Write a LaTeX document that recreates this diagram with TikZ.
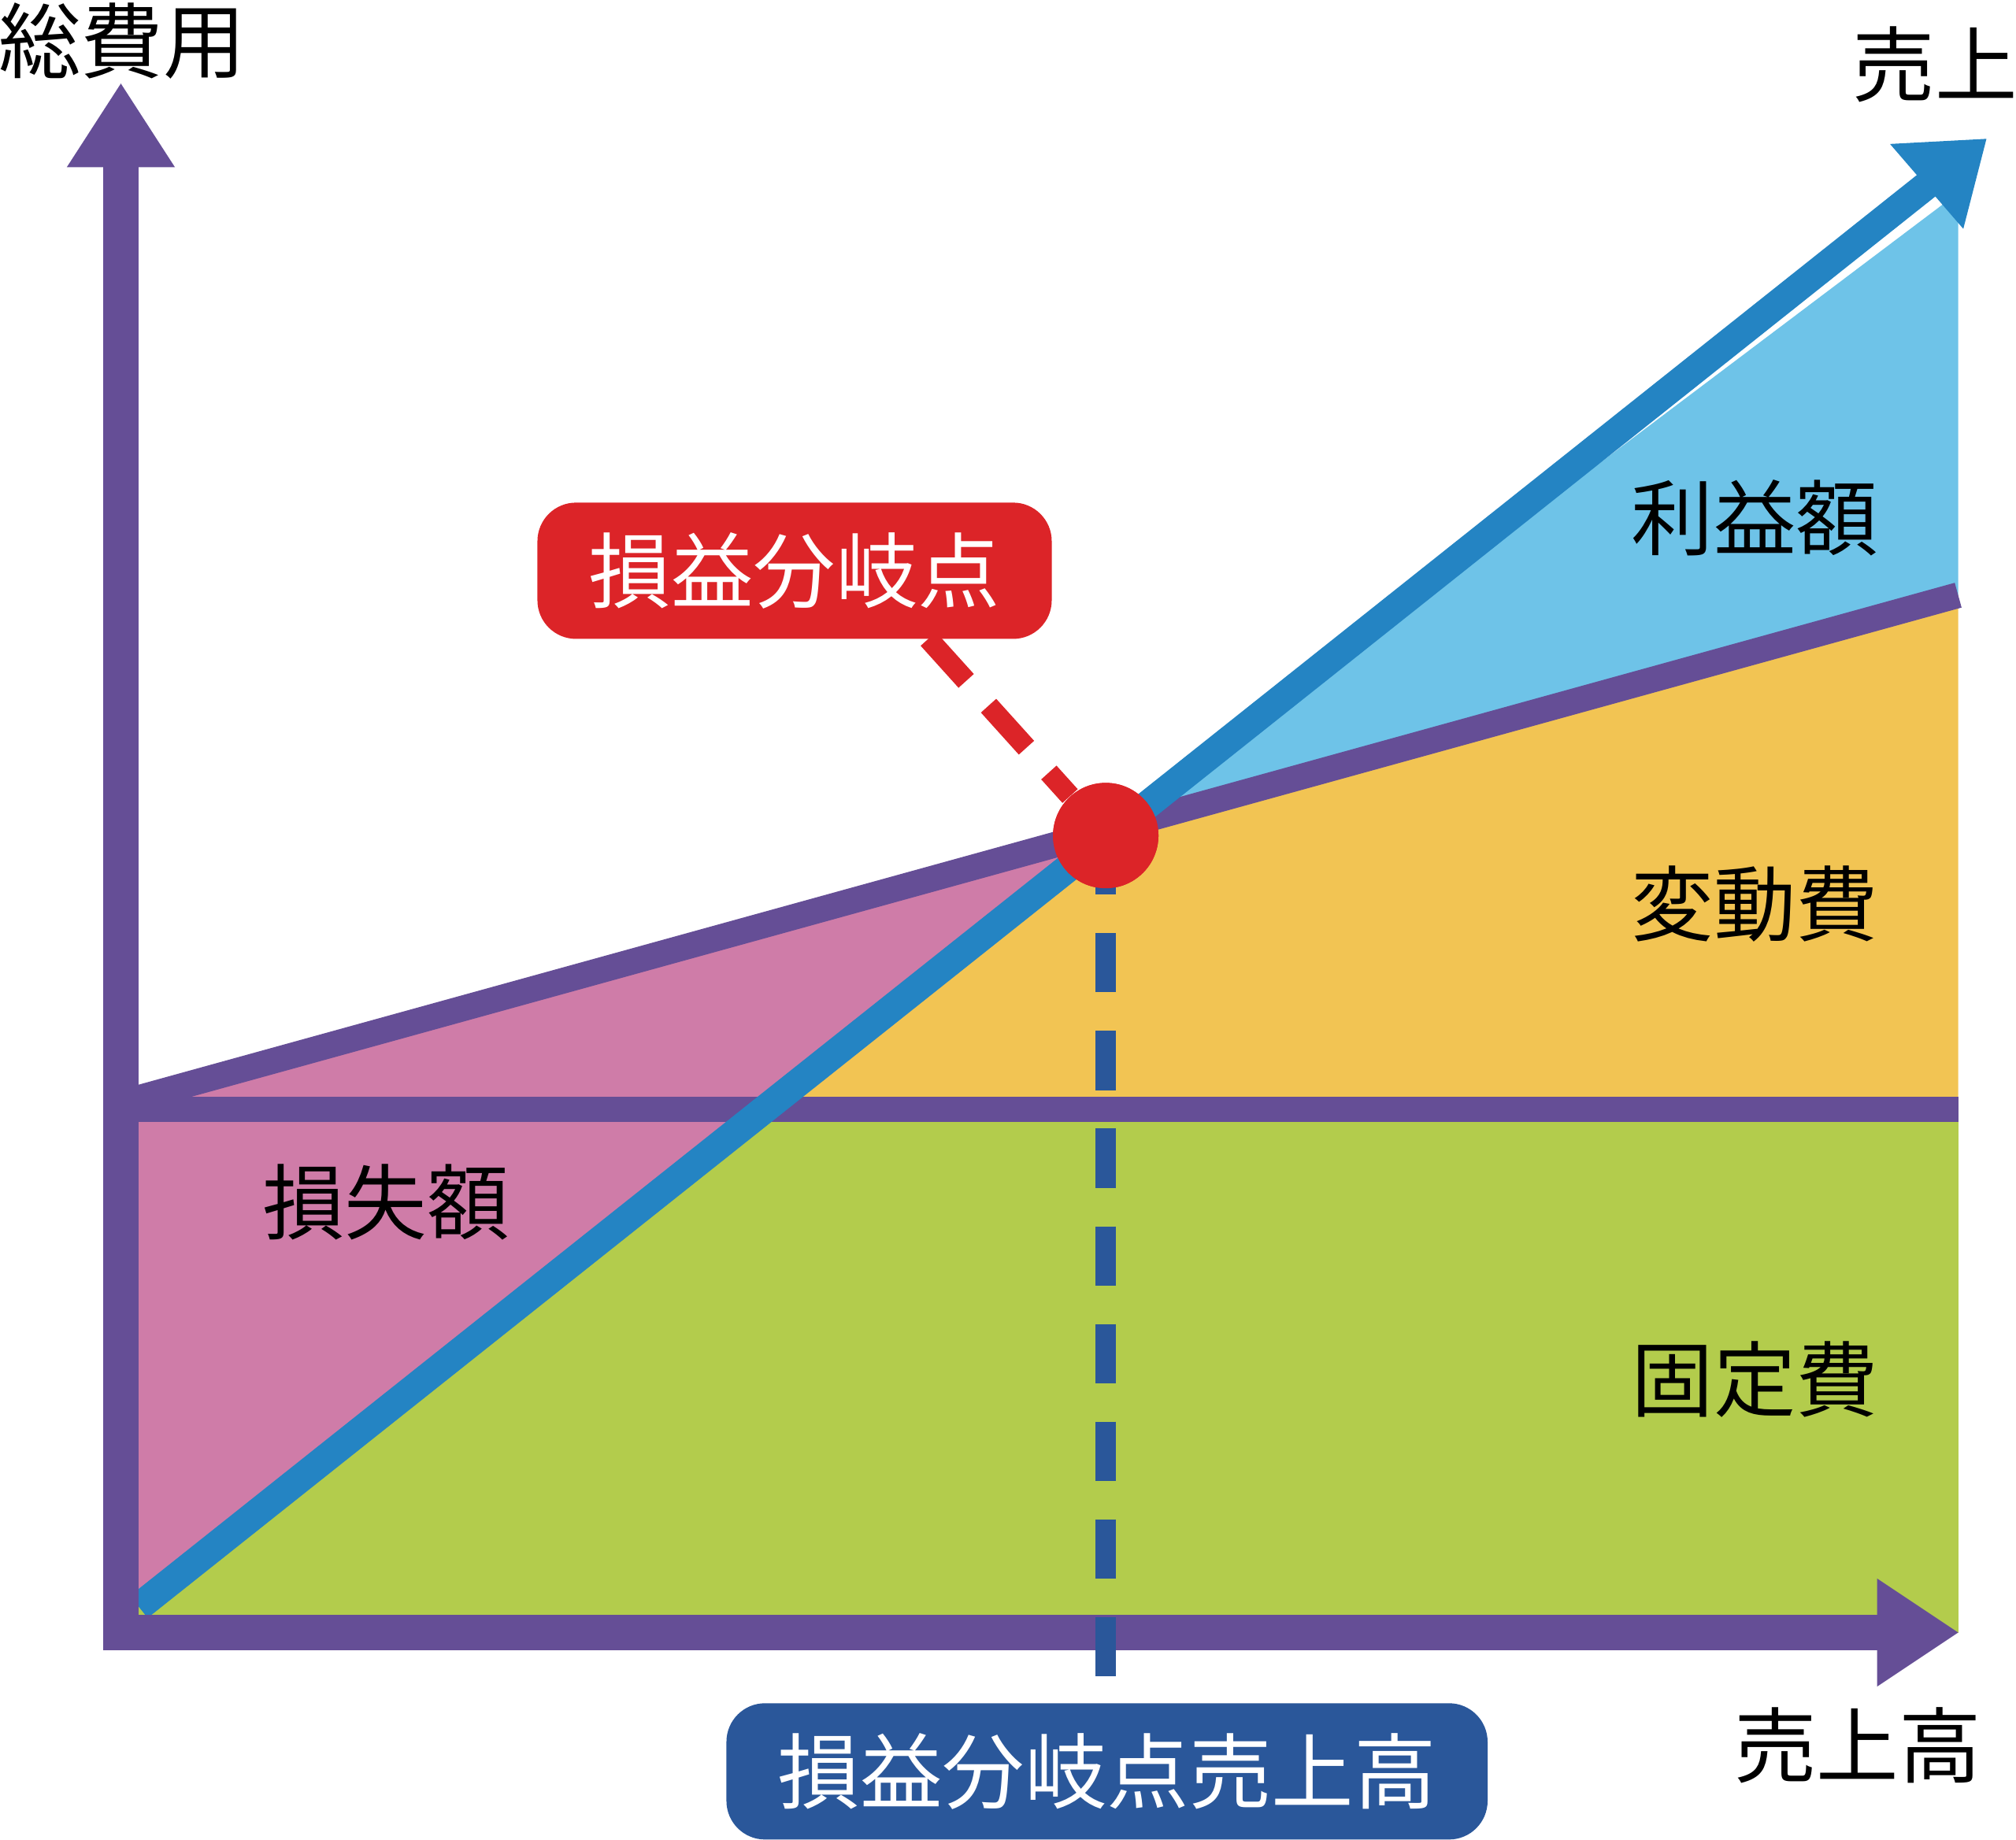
\documentclass[tikz,border=0pt]{standalone}
\usepackage{fontspec}
\setmainfont{Noto Sans CJK JP}
\begin{document}
\begin{tikzpicture}[x=0.5pt,y=-0.5pt]
\definecolor{pur}{HTML}{654E96}
\definecolor{blu}{HTML}{2484C3}
\definecolor{lbl}{HTML}{6EC3E8}
\definecolor{yel}{HTML}{F2C453}
\definecolor{grn}{HTML}{B3CC4C}
\definecolor{pnk}{HTML}{CF7CA8}
\definecolor{rd}{HTML}{DC2428}
\definecolor{dbl}{HTML}{2A579A}
\tikzset{lab/.style={font=\fontsize{32}{36}\selectfont,inner sep=0pt},
 tag/.style={rounded corners=15pt,text=white,font=\fontsize{32}{36}\selectfont,minimum height=53pt,inner xsep=20pt}}
\useasboundingbox (0,0) rectangle (1568,1431);
% fills
\fill[grn] (94,863) rectangle (1523,1270);
\fill[yel] (94,863) -- (1523,863) -- (1523,463) -- (94,858) -- cycle;
\fill[lbl] (860,650) -- (1523,150) -- (1523,463) -- cycle;
\fill[pnk] (94,858) -- (860,650) -- (108,1250) -- (94,1260) -- cycle;
% lines
\draw[pur,line width=10pt] (94,863) -- (1523,863);
\draw[pur,line width=10pt] (94,858) -- (1523,463);
\draw[blu,line width=11pt] (108,1250) -- (1510,135);
\fill[blu] (1470,112) -- (1545,108) -- (1527,178) -- cycle;
\draw[pur,line width=14pt] (94,1270) -- (94,125);
\fill[pur] (52,130) -- (94,65) -- (136,130) -- cycle;
\draw[pur,line width=14pt] (80,1270) -- (1465,1270);
\fill[pur] (1460,1228) -- (1523,1270) -- (1460,1312) -- cycle;
% markers
\node[tag,fill=rd,minimum width=196pt] (be) at (618,444) {損益分岐点};
\node[tag,fill=dbl,minimum width=282pt] (bes) at (861,1378) {損益分岐点売上高};
\node[circle,fill=rd,minimum size=41pt,inner sep=0pt] (pt) at (860,650) {};
\draw[rd,line width=8pt,dash pattern=on 22pt off 13pt] (722,497) -- (pt);
\draw[dbl,line width=8pt,dash pattern=on 23pt off 15pt] (pt.center) -- (bes.north -| pt);
\node[circle,fill=rd,minimum size=41pt,inner sep=0pt] at (860,650) {};
% texts
\node[lab] (t1) at (95,32) {総費用};
\node[lab] (t2) at (1505,50) {売上};
\node[lab] (t3) at (1445,1358) {売上高};
\node[lab] (t4) at (1365,403) {利益額};
\node[lab] (t5) at (1365,703) {変動費};
\node[lab] (t6) at (1365,1073) {固定費};
\node[lab] (t7) at (300,935) {損失額};
\end{tikzpicture}
\end{document}
